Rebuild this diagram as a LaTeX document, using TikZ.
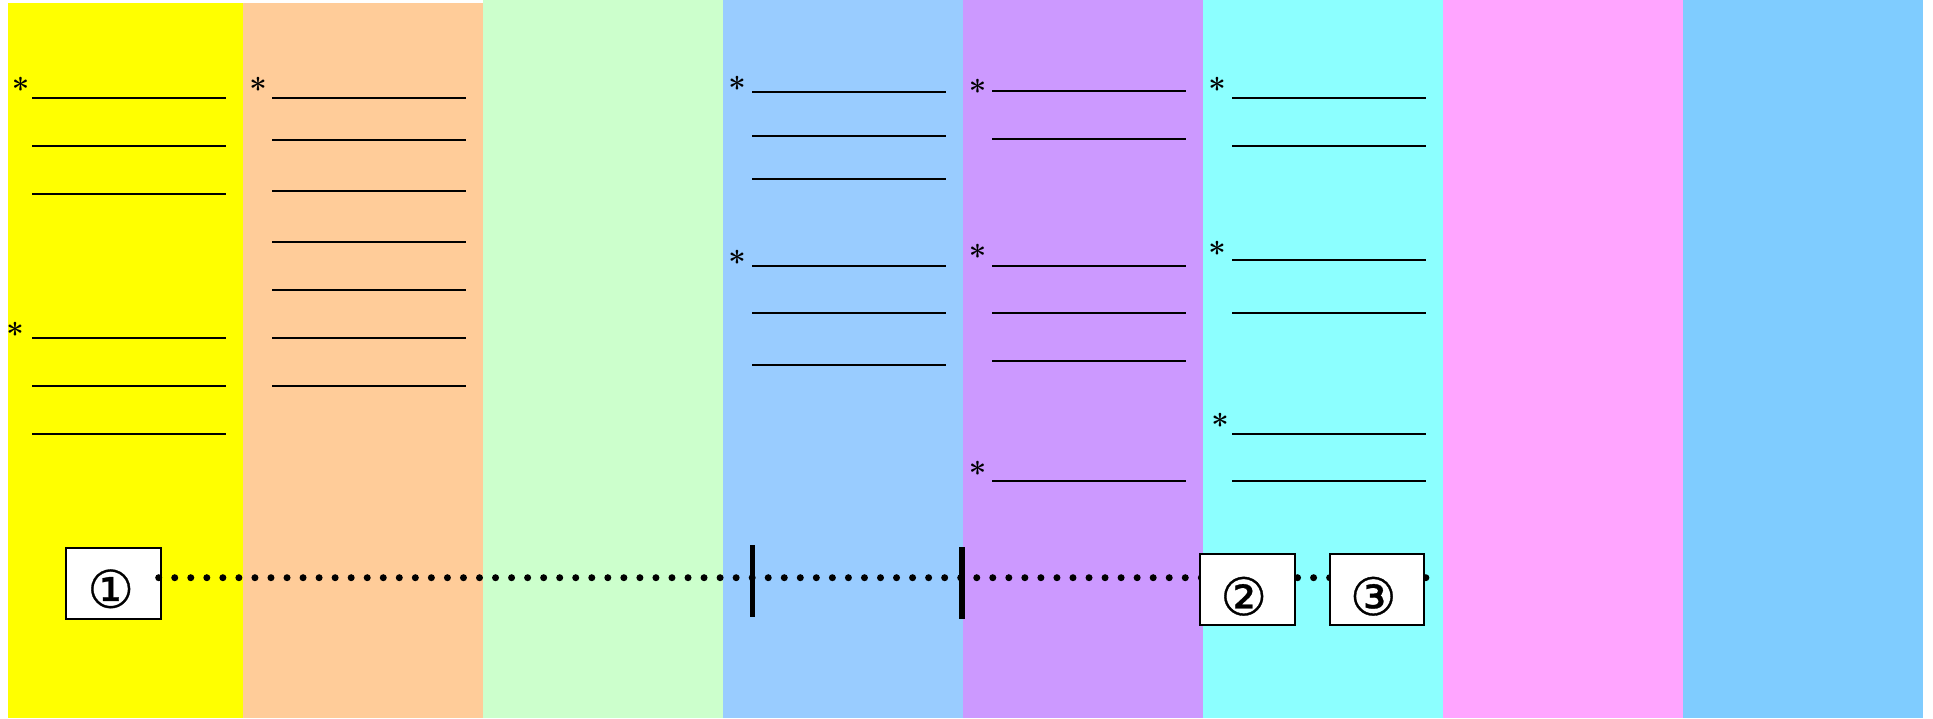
\documentclass[tikz,border=0pt]{standalone}
\usepackage{fontspec}
\newfontfamily\circfont[FakeBold=0.6]{DejaVu Sans}
\definecolor{cYellow}{HTML}{FFFF00}
\definecolor{cPeach}{HTML}{FFCC99}
\definecolor{cGreen}{HTML}{CCFFCC}
\definecolor{cBlue}{HTML}{99CCFF}
\definecolor{cPurple}{HTML}{CC99FF}
\definecolor{cCyan}{HTML}{8CFFFF}
\definecolor{cPink}{HTML}{FFA5FF}
\definecolor{cSky}{HTML}{7FCCFF}
\begin{document}
\begin{tikzpicture}[x=1pt,y=-1pt,
  colband/.style={fill=#1,draw=none},
  rule/.style={line width=2pt,black},
  star/.style={inner sep=0pt,font=\bfseries\fontsize{31}{31}\selectfont},
  numbox/.style={draw,line width=2pt,fill=white,minimum width=94.7pt,minimum height=70.5pt,inner sep=0pt},
  num/.style={inner sep=0pt,font=\circfont\fontsize{52}{52}\selectfont},
  dotline/.style={line width=7pt,line cap=round,dash pattern=on 0pt off 16.04pt},
  barline/.style={line width=5.5pt}]
\useasboundingbox (0,0) rectangle (1933,718);
% columns
\fill[colband=cYellow] (8,3) rectangle (243,718);
\fill[colband=cPeach] (243,3) rectangle (483,718);
\fill[colband=cGreen] (483,0) rectangle (723,718);
\fill[colband=cBlue] (723,0) rectangle (963,718);
\fill[colband=cPurple] (963,0) rectangle (1203,718);
\fill[colband=cCyan] (1203,0) rectangle (1443,718);
\fill[colband=cPink] (1443,0) rectangle (1683,718);
\fill[colband=cSky] (1683,0) rectangle (1923,718);
% rules
\foreach \y in {97.7,145.7,193.7,337.7,385.7,433.7} \draw[rule] (32,\y) -- (226,\y);
\foreach \y in {97.7,140,191,241.7,289.7,337.7,385.7} \draw[rule] (272,\y) -- (466,\y);
\foreach \y in {91.7,136.3,179,265.7,313.3,364.7} \draw[rule] (752,\y) -- (945.5,\y);
\foreach \y in {91,139.3,265.7,313.3,361.3,481.3} \draw[rule] (992,\y) -- (1186,\y);
\foreach \y in {97.7,145.7,259.7,313.3,433.7,481.3} \draw[rule] (1232,\y) -- (1426,\y);
% asterisks
\node[star] (s1) at (20.7,88.5) {*};
\node[star] (s2) at (15,334) {*};
\node[star] (s3) at (258,89) {*};
\node[star] (s4) at (737,88) {*};
\node[star] (s5) at (737,261.5) {*};
\node[star] (s6) at (977.5,90.7) {*};
\node[star] (s7) at (977.5,255.5) {*};
\node[star] (s8) at (977.5,473) {*};
\node[star] (s9) at (1217,88.7) {*};
\node[star] (s10) at (1217,253) {*};
\node[star] (s11) at (1220,424.7) {*};
% boxes and dotted line
\node[numbox] (b1) at (113.55,583.65) {};
\node[num] (n1) at (110.7,588.8) {①};
\coordinate (ds) at (158.7,577.7);
\coordinate (de) at (1426,577.7);
\draw[dotline] (ds) -- (de);
\coordinate (m1t) at (752.6,545);
\coordinate (m1b) at (752.6,617.3);
\coordinate (m2t) at (962,547.3);
\coordinate (m2b) at (962,619.3);
\draw[barline] (m1t) -- (m1b);
\draw[barline] (m2t) -- (m2b);
\node[numbox] (b2) at (1247.65,589.5) {};
\node[num] (n2) at (1243.7,596.2) {②};
\node[numbox] (b3) at (1377,589.5) {};
\node[num] (n3) at (1373.3,596.2) {③};
\end{tikzpicture}
\end{document}
